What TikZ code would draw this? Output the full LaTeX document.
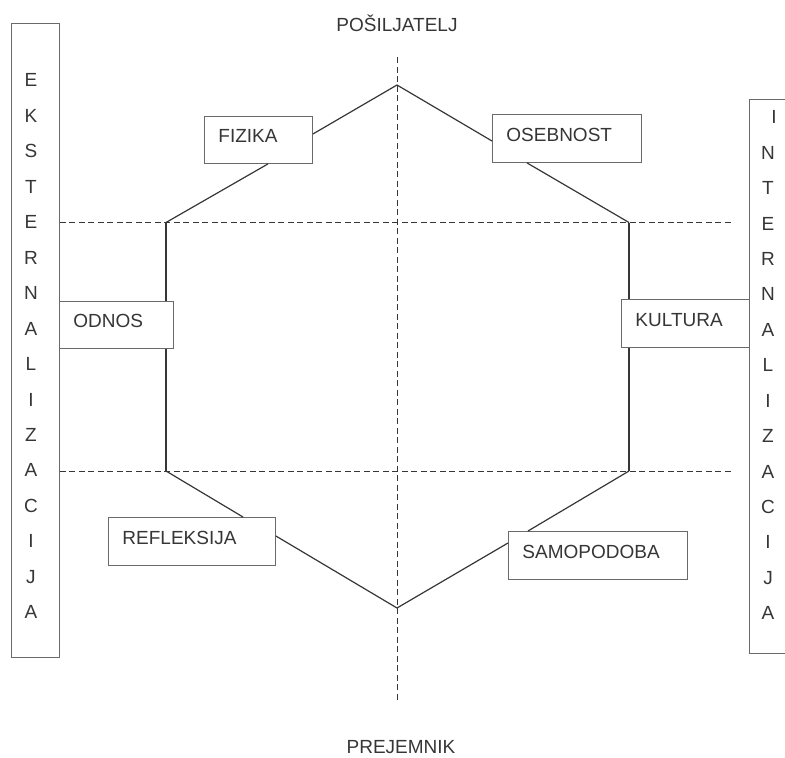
\documentclass[tikz,border=0pt]{standalone}
\usepackage{fontspec}
\setmainfont{Liberation Sans}
\usetikzlibrary{calc}
\definecolor{ink}{HTML}{363636}
\definecolor{boxc}{HTML}{6A6A6A}
\begin{document}
\begin{tikzpicture}[x=1pt,y=-1pt,
  font=\fontsize{19}{22}\selectfont,
  every node/.style={text=ink},
  lbl/.style={draw=boxc, line width=0.9pt, fill=white, inner xsep=14pt, inner ysep=0pt,
    align=left, text height=13.6pt, text depth=8pt, anchor=north west},
  side/.style={draw=boxc, line width=0.9pt, anchor=north west, inner sep=0pt},
  vl/.style={inner sep=0pt, text height=13.6pt, text depth=0pt, anchor=center},
  hex/.style={draw=ink, line width=1.2pt},
  guide/.style={draw=ink, line width=0.9pt, dash pattern=on 6pt off 3.5pt},
  tl/.style={inner sep=0pt, text height=13.6pt, text depth=0pt}]
\useasboundingbox (0,0) rectangle (785,758);
\clip (0,0) rectangle (785,758);

% side boxes
\node[side, minimum width=48pt, minimum height=634pt] (ext) at (11,23) {};
\node[side, minimum width=48pt, minimum height=554pt] (int) at (749,99) {};
\foreach \l [count=\i from 0] in {E,K,S,T,E,R,N,A,L,I,Z,A,C,I,J,A}
  \node[vl] (e\i) at (31,80+35.47*\i) {\l};
\node[vl] (n0) at (774,117) {I};
\foreach \l [count=\i from 1] in {N,T,E,R,N,A,L,I,Z,A,C,I,J,A}
  \node[vl] (n\i) at (768,117+35.43*\i) {\l};

% titles
\node[tl] (top) at (397,25) {POŠILJATELJ};
\node[tl] (bot) at (401,747) {PREJEMNIK};

% key points
\coordinate (T) at (397,85);
\coordinate (B) at (397,608);
\coordinate (L1) at (166,222.5);
\coordinate (R1) at (629,222.5);
\coordinate (L2) at (166,471);
\coordinate (R2) at (629,471);
\coordinate (VT) at (397,57);
\coordinate (VB) at (397,700);
\coordinate (HT) at (732,222.5);
\coordinate (HB) at (732,471);

% guides
\draw[guide] (VT) -- (VB);
\draw[guide] (L1 -| ext.east) -- (HT);
\draw[guide] (L2 -| ext.east) -- (HB);

% label boxes
\node[lbl, text width=80pt, minimum height=47pt] (fiz) at (204,116) {FIZIKA};
\node[lbl, text width=121pt, minimum height=48pt] (ose) at (492,114) {OSEBNOST};
\node[lbl, text width=86pt, minimum height=47pt] (odn) at (59,301) {ODNOS};
\node[lbl, text width=100pt, minimum height=48pt] (kul) at (621,299) {KULTURA};
\node[lbl, text width=139pt, minimum height=48pt] (ref) at (108,517) {REFLEKSIJA};
\node[lbl, text width=151pt, minimum height=48pt] (sam) at (508,531) {SAMOPODOBA};

% hexagon
\draw[hex] (T) -- ([yshift=-18pt]fiz.north east);
\draw[hex] ([xshift=64pt]fiz.south west) -- (L1);
\draw[hex] (T) -- ([yshift=-27pt]ose.north west);
\draw[hex] ([xshift=35pt]ose.south west) -- (R1);
\draw[hex] (L1) -- (L1 |- odn.north);
\draw[hex] (L1 |- odn.south) -- (L2);
\draw[hex] (R1) -- (R1 |- kul.north);
\draw[hex] (R1 |- kul.south) -- (R2);
\draw[hex] (L2) -- ([xshift=135pt]ref.north west);
\draw[hex] ([yshift=-19pt]ref.north east) -- (B);
\draw[hex] (R2) -- ([xshift=20pt]sam.north west);
\draw[hex] ([yshift=-12pt]sam.north west) -- (B);
\end{tikzpicture}
\end{document}
